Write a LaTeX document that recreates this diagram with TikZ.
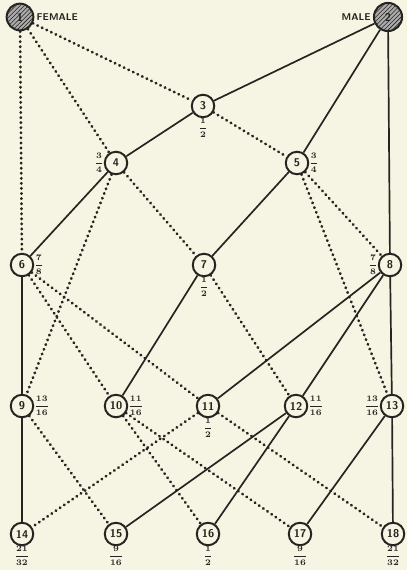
\documentclass[tikz,border=0pt]{standalone}
\usetikzlibrary{patterns}
\definecolor{paper}{RGB}{246,244,226}
\definecolor{ink}{RGB}{38,36,32}
\tikzset{
  gen/.style={circle,draw=ink,line width=1.4pt,fill=paper,minimum size=16pt,inner sep=0pt,font=\sffamily\bfseries\footnotesize,text=ink},
  founder/.style={gen,fill=gray!65,postaction={pattern=north east lines,pattern color=ink}},
  frac/.style={inner sep=0.5pt,font=\fontsize{6}{7}\selectfont\boldmath,text=ink},
  tag/.style={inner sep=1.5pt,font=\sffamily\bfseries\scriptsize,text=ink},
  sire/.style={draw=ink,line width=1.2pt},
  dam/.style={draw=ink,line width=2pt,line cap=round,dash pattern=on 0.3pt off 3.3pt}
}
\begin{document}
\begin{tikzpicture}[x=0.025cm,y=-0.025cm]
\fill[paper] (0,0) rectangle (407,570);
% the two pure ancestors
\node[founder,minimum size=19pt] (n1) at (20,17) {1};
\node[founder,minimum size=20pt] (n2) at (388,17) {2};
\node[tag,anchor=west] (female) at (n1.east) {FEMALE};
\node[tag,anchor=east] (male) at (n2.west) {MALE};
% offspring
\foreach \n/\x/\y in {3/203/106,4/116/163,5/297/163,6/22/265,7/204/265,8/390/265,
  9/22/406,10/116/406,11/208/406,12/296/406,13/392/406,
  14/22/534,15/116/534,16/208/534,17/300/534,18/393/534}
  \node[gen] (n\n) at (\x,\y) {\n};
% share of blood
\foreach \n/\pos/\a/\b in {3/below/1/2,4/left/3/4,5/right/3/4,6/right/7/8,7/below/1/2,8/left/7/8,
  9/right/13/16,10/right/11/16,11/below/1/2,12/right/11/16,13/left/13/16,
  14/below/21/32,15/below/9/16,16/below/1/2,17/below/9/16,18/below/21/32}
  \node[frac,\pos=8pt] (f\n) at (n\n) {$\displaystyle\frac{\a}{\b}$};
% lines of descent
\foreach \a/\b in {2/3,2/5,2/8,3/4,4/6,5/7,6/9,7/10,8/11,8/12,8/13,9/14,12/15,12/16,13/17,13/18}
  \draw[sire] (n\a) -- (n\b);
\foreach \a/\b in {1/3,1/4,1/6,3/5,4/7,4/9,5/8,5/13,6/10,6/11,7/12,9/15,10/16,10/17,11/14,11/18}
  \draw[dam] (n\a) -- (n\b);
\end{tikzpicture}
\end{document}
